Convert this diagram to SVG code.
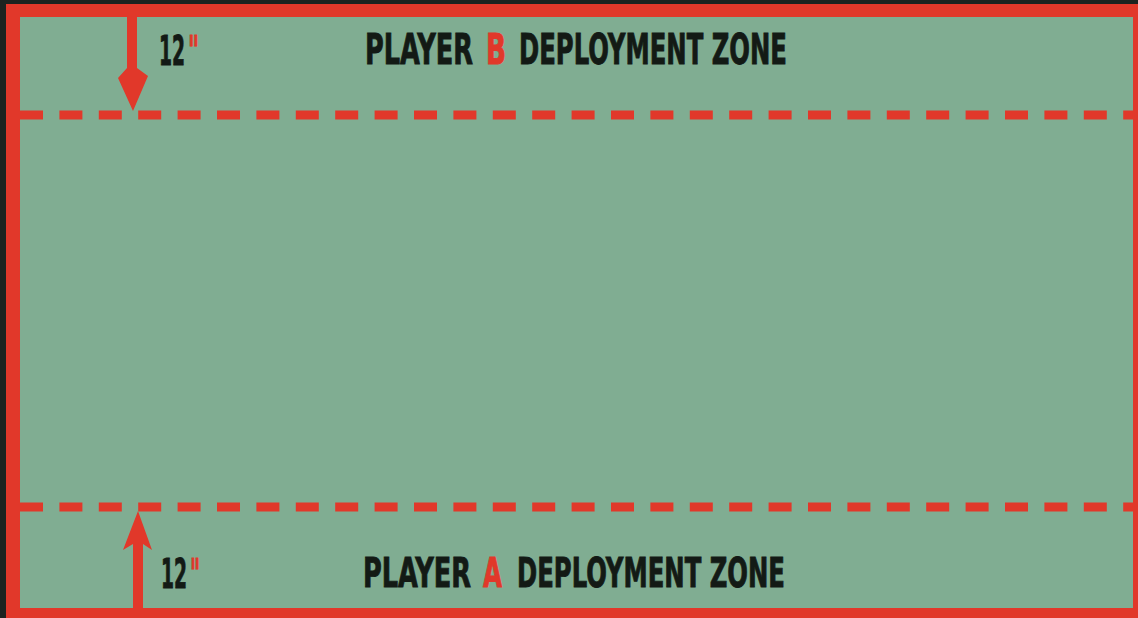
<svg xmlns="http://www.w3.org/2000/svg" width="1138" height="618" viewBox="0 0 1138 618">
<style>
.red{fill:#e1382a}
.dash{stroke:#e1382a;stroke-width:9;stroke-dasharray:23 16.4;fill:none}
.lbl{font-family:"DejaVu Sans","Liberation Sans",sans-serif;font-weight:bold;font-stretch:condensed;fill:#131a15;stroke:#131a15;stroke-width:0.9}
.hl{fill:#e1382a;stroke:#e1382a}
</style>
<rect x="0" y="0" width="1138" height="618" fill="#1c2320"/>
<g id="board">
<rect x="6" y="4" width="1132" height="614" class="red"/>
<rect x="20" y="17" width="1113" height="591" fill="#80ad92"/>
</g>
<g id="connectors">
<line x1="20" y1="115" x2="1133" y2="115" class="dash"/>
<line x1="20" y1="507" x2="1133" y2="507" class="dash"/>
<polygon class="red" points="127,17 137,17 137,68 148,76 133,111 118,78 127,68"/>
<polygon class="red" points="138,511 152,550 143,544 143,609 133,609 133,544 123,550"/>
</g>
<g id="top-label">
<text class="lbl" x="159" y="65" font-size="41" textLength="26" lengthAdjust="spacingAndGlyphs">12</text>
<text class="lbl hl" x="188" y="65" font-size="41" textLength="11" lengthAdjust="spacingAndGlyphs">"</text>
<text class="lbl" x="365" y="64" font-size="43" textLength="108" lengthAdjust="spacingAndGlyphs">PLAYER</text>
<text class="lbl hl" x="486" y="64" font-size="43" textLength="20" lengthAdjust="spacingAndGlyphs">B</text>
<text class="lbl" x="519" y="64" font-size="43" textLength="268" lengthAdjust="spacingAndGlyphs">DEPLOYMENT ZONE</text>
</g>
<g id="bottom-label">
<text class="lbl" x="161" y="588" font-size="41" textLength="26" lengthAdjust="spacingAndGlyphs">12</text>
<text class="lbl hl" x="190" y="588" font-size="41" textLength="10" lengthAdjust="spacingAndGlyphs">"</text>
<text class="lbl" x="363" y="587" font-size="41" textLength="108" lengthAdjust="spacingAndGlyphs">PLAYER</text>
<text class="lbl hl" x="483" y="587" font-size="41" textLength="19" lengthAdjust="spacingAndGlyphs">A</text>
<text class="lbl" x="517" y="587" font-size="41" textLength="268" lengthAdjust="spacingAndGlyphs">DEPLOYMENT ZONE</text>
</g>
</svg>
